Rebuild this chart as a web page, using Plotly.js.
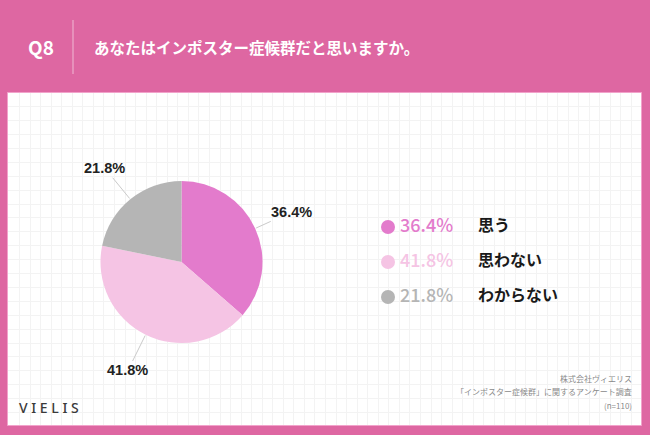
<!DOCTYPE html>
<html>
<head>
<meta charset="utf-8">
<script src="https://cdn.plot.ly/plotly-3.0.1.min.js"></script>
<style>html,body{margin:0;padding:0;background:#fff;}#chart{width:650px;height:435px;}</style>
</head>
<body>
<div id="chart"></div>
<script>
// ---- data ----
const categories = ["思う", "思わない", "わからない"];
const values = [36.4, 41.8, 21.8];
const colors = ["#E37BCC", "#F5C4E4", "#B5B5B5"];
const titleQ = "Q8";
const titleText = "あなたはインポスター症候群だと思いますか。";
const sourceLines = ["株式会社ヴィエリス", "「インポスター症候群」に関するアンケート調査", "(n=110)"];
const logoText = "V I E L I S";

// ---- geometry ----
const W = 650, H = 435;
const px = v => v / W;            // x pixels -> paper
const py = v => (H - v) / H;      // y pixels from top -> paper
const pieCx = 181.5, pieCy = 262, pieR = 81;
const JP = "'Noto Sans CJK JP', 'Noto Sans', sans-serif";
const LAT = "'Liberation Sans', Arial, sans-serif";

const fmt = v => v.toFixed(1) + "%";

// pie slice label annotations (from data values)
const total = values.reduce((a, b) => a + b, 0);
let cum = 0;
const annotations = [];
values.forEach((v, i) => {
  const mid = (cum + v / 2) / total * 2 * Math.PI;
  cum += v;
  const s = Math.sin(mid), c = Math.cos(mid);
  const rEdge = pieR + 1, rLab = 121;
  annotations.push({
    xref: "paper", yref: "paper",
    x: px(pieCx + rEdge * s), y: py(pieCy - rEdge * c),
    ax: (rLab - rEdge) * s, ay: -(rLab - rEdge) * c,
    text: "<b>" + fmt(v) + "</b>",
    showarrow: true, arrowhead: 0, arrowwidth: 1, arrowcolor: "#CACACA", standoff: 0,
    font: {family: LAT, size: 14.5, color: "#222"}
  });
});

// header texts
annotations.push({xref: "paper", yref: "paper", x: px(26), y: py(47), xanchor: "left", yanchor: "middle",
  text: "<b>" + titleQ + "</b>", showarrow: false, font: {family: JP, size: 19, color: "#fff"}});
annotations.push({xref: "paper", yref: "paper", x: px(92), y: py(47), xanchor: "left", yanchor: "middle",
  text: "<b>" + titleText + "</b>", showarrow: false, font: {family: JP, size: 15.5, color: "#fff"}});
// logo
annotations.push({xref: "paper", yref: "paper", x: px(17), y: py(407), xanchor: "left", yanchor: "middle",
  text: logoText, showarrow: false, font: {family: "'Noto Sans', sans-serif", size: 14, color: "#3a3a3a", weight: 500}});
// source
sourceLines.forEach((t, i) => {
  annotations.push({xref: "paper", yref: "paper", x: px(634), y: py(378 + i * 13.5), xanchor: "right", yanchor: "middle",
    text: t, showarrow: false, font: {family: JP, size: 8, color: "#8a8a8a"}});
});

const idx = categories.map((_, i) => i);

const traces = [
  // empty trace so the background grid subplot is drawn
  {type: "scatter", mode: "markers", x: [null], y: [null], xaxis: "x", yaxis: "y", hoverinfo: "skip", showlegend: false},
  {
    type: "pie", values: values, labels: categories, sort: false, direction: "clockwise", rotation: 0,
    marker: {colors: colors, line: {width: 0}}, textinfo: "none", hoverinfo: "skip", showlegend: false,
    domain: {x: [px(pieCx - pieR), px(pieCx + pieR)], y: [py(pieCy + pieR), py(pieCy - pieR)]}
  },
  // legend markers
  {
    type: "scatter", mode: "markers", x: idx.map(() => 0), y: idx, xaxis: "x2", yaxis: "y2",
    marker: {color: colors, size: 14, symbol: "circle"}, hoverinfo: "skip", showlegend: false, cliponaxis: false
  },
  // legend percentages
  {
    type: "scatter", mode: "text", x: idx.map(() => 12), y: idx, xaxis: "x2", yaxis: "y2",
    text: values.map(fmt), textposition: "middle right",
    textfont: {family: JP, size: 18, color: colors, weight: 500},
    hoverinfo: "skip", showlegend: false, cliponaxis: false
  },
  // legend labels
  {
    type: "scatter", mode: "text", x: idx.map(() => 90), y: idx, xaxis: "x2", yaxis: "y2",
    text: categories.map(c => "<b>" + c + "</b>"), textposition: "middle right",
    textfont: {family: JP, size: 16, color: "#1a1a1a"},
    hoverinfo: "skip", showlegend: false, cliponaxis: false
  }
];

const layout = {
  width: W, height: H,
  margin: {l: 0, r: 0, t: 0, b: 0},
  paper_bgcolor: "#DE67A2",
  plot_bgcolor: "rgba(0,0,0,0)",
  showlegend: false,
  // background grid panel
  xaxis: {domain: [px(8), px(641)], range: [0, 633], tick0: 1, dtick: 10.55, showgrid: true, gridcolor: "#F3F3F3", gridwidth: 1,
    zeroline: false, showticklabels: false, ticks: "", showline: false, fixedrange: true},
  yaxis: {domain: [py(425), py(93)], range: [0, 332], tick0: 12.5, dtick: 13.9, showgrid: true, gridcolor: "#F3F3F3", gridwidth: 1,
    zeroline: false, showticklabels: false, ticks: "", showline: false, fixedrange: true},
  // legend axes (x units = pixels)
  xaxis2: {domain: [px(388), px(588)], range: [0, 200], anchor: "y2", visible: false, fixedrange: true},
  yaxis2: {domain: [py(314.5), py(209.5)], range: [2.5, -0.5], anchor: "x2", visible: false, fixedrange: true},
  shapes: [
    {type: "rect", layer: "below", xref: "paper", yref: "paper", x0: px(7.5), x1: px(641.5), y0: py(425.5), y1: py(92.5),
      line: {color: "#F2A3CB", width: 1}, fillcolor: "#ffffff"},
    {type: "line", xref: "paper", yref: "paper", x0: px(73), x1: px(73), y0: py(20), y1: py(74),
      line: {color: "rgba(255,255,255,0.55)", width: 1}}
  ],
  annotations: annotations
};

Plotly.newPlot("chart", traces, layout, {displayModeBar: false, staticPlot: true});
</script>
</body>
</html>
